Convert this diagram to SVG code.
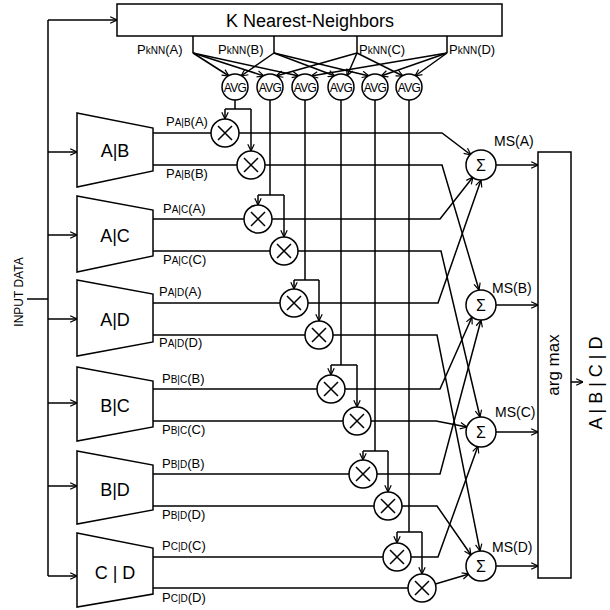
<svg xmlns="http://www.w3.org/2000/svg" width="610" height="610" viewBox="0 0 610 610">
<style>
  text { font-family: "Liberation Sans", Arial, sans-serif; fill: #000; }
  .ln { fill: none; stroke: #000; stroke-width: 1.5; }
  .ar { fill: none; stroke: #000; stroke-width: 1.5; marker-end: url(#arr); }
  .nd { fill: #fff; stroke: #000; stroke-width: 1.5; }
  .big { font-size: 18px; text-anchor: middle; }
  .lab { font-size: 13px; }
  .sub { font-size: 10px; }
  .avg { font-size: 12px; text-anchor: middle; letter-spacing: -0.6px; }
  .sig { font-size: 16px; text-anchor: middle; }
  .ms { font-size: 14px; }
</style>
<defs>
  <marker id="arr" viewBox="0 0 10 10" refX="9.5" refY="5" markerWidth="8" markerHeight="8" markerUnits="userSpaceOnUse" orient="auto">
    <path d="M1,1 L9.5,5 L1,9" fill="none" stroke="#000" stroke-width="1.5"/>
  </marker>
  <g id="mulx"><circle r="14" class="nd"/><path d="M-7,-7 L7,7 M-7,7 L7,-7" class="ln"/></g>
</defs>
<rect width="610" height="610" fill="#fff"/>

<g id="connectors">
  <!-- input data -->
  <path class="ln" d="M27,299 H48 M48,20 V576"/>
  <path class="ar" d="M48,20 H117"/>
  <path class="ar" d="M48,152 H77"/>
  <path class="ar" d="M48,235 H77"/>
  <path class="ar" d="M48,319 H77"/>
  <path class="ar" d="M48,403 H77"/>
  <path class="ar" d="M48,486 H77"/>
  <path class="ar" d="M48,576 H77"/>
  <!-- kNN outputs -->
  <path class="ln" d="M193,36 V53 M274,36 V53 M357,36 V53 M447,36 V53"/>
  <path class="ar" d="M193,53 L229,76"/>
  <path class="ar" d="M274,53 L241,76"/>
  <path class="ar" d="M193,53 L264,76"/>
  <path class="ar" d="M357,53 L276,76"/>
  <path class="ar" d="M193,53 L299,76"/>
  <path class="ar" d="M447,53 L311,76"/>
  <path class="ar" d="M274,53 L335,76"/>
  <path class="ar" d="M357,53 L347,76"/>
  <path class="ar" d="M274,53 L369,76"/>
  <path class="ar" d="M447,53 L381,76"/>
  <path class="ar" d="M357,53 L403,76"/>
  <path class="ar" d="M447,53 L415,76"/>
  <!-- AVG to multipliers -->
  <path class="ln" d="M235,100 V109 M225,109 H251"/>
  <path class="ar" d="M225,109 V119"/>
  <path class="ar" d="M251,109 V151"/>
  <path class="ln" d="M270,100 V195 M258,195 H284"/>
  <path class="ar" d="M258,195 V205"/>
  <path class="ar" d="M284,195 V237"/>
  <path class="ln" d="M305,100 V280 M294,280 H319"/>
  <path class="ar" d="M294,280 V289"/>
  <path class="ar" d="M319,280 V321"/>
  <path class="ln" d="M341,100 V365 M331,365 H357"/>
  <path class="ar" d="M331,365 V375"/>
  <path class="ar" d="M357,365 V407"/>
  <path class="ln" d="M375,100 V451 M363,451 H388"/>
  <path class="ar" d="M363,451 V460"/>
  <path class="ar" d="M388,451 V492"/>
  <path class="ln" d="M409,100 V532 M397,532 H422"/>
  <path class="ar" d="M397,532 V543"/>
  <path class="ar" d="M422,532 V574"/>
  <!-- classifier outputs through multipliers to sums -->
  <path class="ar" d="M153,133 H442 L471,155"/>
  <path class="ar" d="M153,165 H442 L479,290"/>
  <path class="ar" d="M153,219 H440 L473,177"/>
  <path class="ar" d="M153,251 H441 L480,417"/>
  <path class="ar" d="M153,303 H438 L481,180"/>
  <path class="ar" d="M153,335 H437 L480,551"/>
  <path class="ar" d="M153,389 H440 L472,317"/>
  <path class="ar" d="M153,421 H436 L467,427"/>
  <path class="ar" d="M153,474 H440 L481,320"/>
  <path class="ar" d="M153,506 H437 L471,555"/>
  <path class="ar" d="M153,557 H438 L478,446"/>
  <path class="ar" d="M153,588 H422 L469,574"/>
  <!-- sums to argmax -->
  <path class="ar" d="M496,165 H538"/>
  <path class="ar" d="M496,305 H538"/>
  <path class="ar" d="M496,432 H538"/>
  <path class="ar" d="M496,566 H538"/>
  <path class="ar" d="M571,382 H583"/>
</g>

<g id="input-data"><text transform="translate(23,292) rotate(-90)" font-size="12" text-anchor="middle">INPUT DATA</text></g>

<g id="knn">
  <rect x="117" y="4" width="385" height="32" class="nd"/>
  <text x="310" y="27" class="big">K Nearest-Neighbors</text>
  <text x="137" y="54" class="lab">P<tspan class="sub">kNN</tspan>(A)</text>
  <text x="218" y="54" class="lab">P<tspan class="sub">kNN</tspan>(B)</text>
  <text x="359" y="54" class="lab">P<tspan class="sub">kNN</tspan>(C)</text>
  <text x="449" y="54" class="lab">P<tspan class="sub">kNN</tspan>(D)</text>
</g>

<g id="avg1"><circle cx="235" cy="87" r="13" class="nd"/><text x="235" y="91.5" class="avg">AVG</text></g>
<g id="avg2"><circle cx="270" cy="87" r="13" class="nd"/><text x="270" y="91.5" class="avg">AVG</text></g>
<g id="avg3"><circle cx="305" cy="87" r="13" class="nd"/><text x="305" y="91.5" class="avg">AVG</text></g>
<g id="avg4"><circle cx="341" cy="87" r="13" class="nd"/><text x="341" y="91.5" class="avg">AVG</text></g>
<g id="avg5"><circle cx="375" cy="87" r="13" class="nd"/><text x="375" y="91.5" class="avg">AVG</text></g>
<g id="avg6"><circle cx="409" cy="87" r="13" class="nd"/><text x="409" y="91.5" class="avg">AVG</text></g>

<g id="clf-ab">
  <path d="M77,113 L153,128 L153,171 L77,187 Z" class="nd"/>
  <text x="115" y="157" class="big">A|B</text>
  <text x="166" y="126" class="lab">P<tspan class="sub">A|B</tspan>(A)</text>
  <text x="166" y="178" class="lab">P<tspan class="sub">A|B</tspan>(B)</text>
</g>
<g id="clf-ac">
  <path d="M77,196 L153,210 L153,256 L77,272 Z" class="nd"/>
  <text x="115" y="242" class="big">A|C</text>
  <text x="163" y="213" class="lab">P<tspan class="sub">A|C</tspan>(A)</text>
  <text x="163" y="264" class="lab">P<tspan class="sub">A|C</tspan>(C)</text>
</g>
<g id="clf-ad">
  <path d="M77,280 L153,294 L153,342 L77,356 Z" class="nd"/>
  <text x="115" y="326" class="big">A|D</text>
  <text x="159" y="296" class="lab">P<tspan class="sub">A|D</tspan>(A)</text>
  <text x="159" y="347" class="lab">P<tspan class="sub">A|D</tspan>(D)</text>
</g>
<g id="clf-bc">
  <path d="M77,367 L153,381 L153,427 L77,441 Z" class="nd"/>
  <text x="115" y="412" class="big">B|C</text>
  <text x="162" y="383" class="lab">P<tspan class="sub">B|C</tspan>(B)</text>
  <text x="162" y="434" class="lab">P<tspan class="sub">B|C</tspan>(C)</text>
</g>
<g id="clf-bd">
  <path d="M77,451 L153,465 L153,510 L77,524 Z" class="nd"/>
  <text x="115" y="496" class="big">B|D</text>
  <text x="162" y="468" class="lab">P<tspan class="sub">B|D</tspan>(B)</text>
  <text x="162" y="519" class="lab">P<tspan class="sub">B|D</tspan>(D)</text>
</g>
<g id="clf-cd">
  <path d="M77,533 L153,548 L153,594 L77,607 Z" class="nd"/>
  <text x="115" y="579" class="big">C | D</text>
  <text x="162" y="550" class="lab">P<tspan class="sub">C|D</tspan>(C)</text>
  <text x="162" y="602" class="lab">P<tspan class="sub">C|D</tspan>(D)</text>
</g>

<g id="mul1"><use href="#mulx" x="225" y="133"/></g>
<g id="mul2"><use href="#mulx" x="251" y="165"/></g>
<g id="mul3"><use href="#mulx" x="258" y="219"/></g>
<g id="mul4"><use href="#mulx" x="284" y="251"/></g>
<g id="mul5"><use href="#mulx" x="294" y="303"/></g>
<g id="mul6"><use href="#mulx" x="319" y="335"/></g>
<g id="mul7"><use href="#mulx" x="331" y="389"/></g>
<g id="mul8"><use href="#mulx" x="357" y="421"/></g>
<g id="mul9"><use href="#mulx" x="363" y="474"/></g>
<g id="mul10"><use href="#mulx" x="388" y="506"/></g>
<g id="mul11"><use href="#mulx" x="397" y="557"/></g>
<g id="mul12"><use href="#mulx" x="422" y="588"/></g>

<g id="sum-a"><circle cx="481" cy="165" r="15" class="nd"/><text x="481" y="171" class="sig">Σ</text><text x="494" y="146" class="ms">MS(A)</text></g>
<g id="sum-b"><circle cx="481" cy="305" r="15" class="nd"/><text x="481" y="311" class="sig">Σ</text><text x="492" y="293" class="ms">MS(B)</text></g>
<g id="sum-c"><circle cx="481" cy="432" r="15" class="nd"/><text x="481" y="438" class="sig">Σ</text><text x="495" y="417" class="ms">MS(C)</text></g>
<g id="sum-d"><circle cx="481" cy="566" r="15" class="nd"/><text x="481" y="572" class="sig">Σ</text><text x="492" y="552" class="ms">MS(D)</text></g>

<g id="argmax">
  <rect x="538" y="152" width="33" height="426" class="nd"/>
  <text transform="translate(559,365) rotate(-90)" font-size="17" text-anchor="middle">arg max</text>
</g>
<g id="output"><text transform="translate(602,383) rotate(-90)" font-size="18" text-anchor="middle">A | B | C | D</text></g>
</svg>
